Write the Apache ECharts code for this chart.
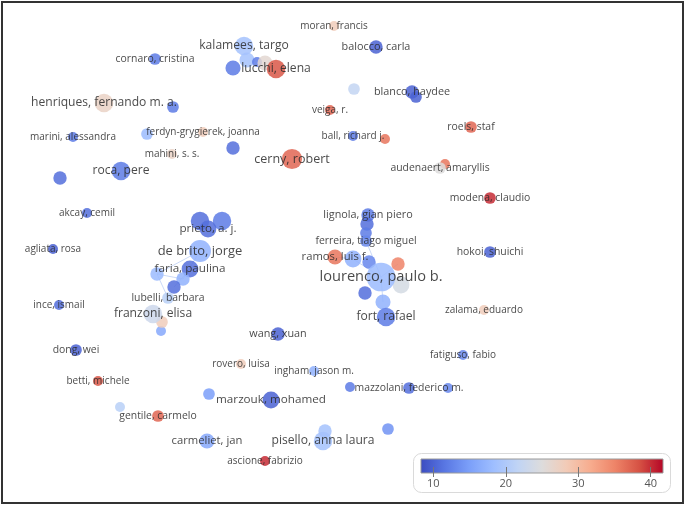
<!DOCTYPE html>
<html>
<head>
<meta charset="utf-8">
<script src="https://cdn.jsdelivr.net/npm/echarts@6.0.0/dist/echarts.min.js"></script>
<style>
html, body { margin: 0; padding: 0; background: #fff; }
#chart { width: 685px; height: 506px; }
</style>
</head>
<body>
<div id="chart"></div>
<script>
// authors (empty name = node without a visible label)
const names = [
  'moran, francis', 'kalamees, targo', 'balocco, carla', 'cornaro, cristina', '', '', '', '', 'lucchi, elena',
  'henriques, fernando m. a.', '', 'blanco, haydee', '', '', 'veiga, r.', 'roels, staf',
  'marini, alessandra', 'ferdyn-grygierek, joanna', '', 'ball, richard j.', '', '', 'mahini, s. s.',
  'cerny, robert', '', 'audenaert, amaryllis', 'roca, pere', '', 'modena, claudio', 'akcay, cemil',
  '', '', 'prieto, a. j.', 'de brito, jorge', 'agliata, rosa',
  'lignola, gian piero', '', '', 'ferreira, tiago miguel', 'hokoi, shuichi',
  'ramos, luis f.', '', '', '', '', 'lourenco, paulo b.', '', '', 'fort, rafael',
  'faria, paulina', '', '', '', 'lubelli, barbara', '', '', 'franzoni, elisa',
  'ince, ismail', 'zalama, eduardo', 'wang, xuan', 'dong, wei', 'fatiguso, fabio',
  'rovero, luisa', 'ingham, jason m.', 'betti, michele', '', 'mazzolani, federico m.', '',
  '', 'marzouk, mohamed', '', 'gentile, carmelo', '', 'carmeliet, jan', '', 'pisello, anna laura',
  'ascione, fabrizio'
]
// map coordinates
const xs = [
  334, 244, 376, 155, 247, 257, 265, 233, 276,
  104, 173, 412, 416, 354, 330, 471,
  73, 203, 147, 353, 385, 233, 172,
  292, 445, 440, 121, 60, 490, 87,
  200, 222, 208, 200, 53,
  368, 367, 366, 366, 490,
  335, 353, 369, 398, 401, 381, 365, 383, 386,
  190, 183, 157, 174, 168, 161, 162, 153,
  59, 484, 278, 76, 463,
  241, 314, 98, 350, 409, 448,
  209, 271, 120, 158, 388, 207, 325, 323,
  265
]
const ys = [
  26, 46, 47, 59, 60, 62, 63, 68, 69,
  103, 107, 92, 97, 89, 110, 127,
  137, 132, 134, 136, 139, 148, 154,
  159, 164, 168, 171, 178, 198, 213,
  221, 221, 229, 251, 249,
  215, 224, 233, 241, 252,
  257, 259, 262, 264, 285, 277, 293, 302, 317,
  269, 279, 274, 287, 298, 331, 322, 314,
  305, 310, 334, 350, 355,
  364, 371, 381, 387, 388, 388,
  394, 400, 407, 416, 429, 441, 431, 441,
  461
]
// number of documents (node weight)
const weights = [
  0, 5, 2, 1, 3, 0, 3, 3, 5,
  5, 1, 2, 1, 1, 0, 1,
  0, 0, 1, 0, 0, 2, 0,
  6, 0, 1, 5, 2, 1, 0,
  5, 5, 4, 7, 0,
  2, 2, 1, 1, 1,
  3, 4, 2, 2, 4, 11, 2, 3, 5,
  4, 2, 2, 2, 1, 0, 1, 5,
  0, 0, 2, 1, 0,
  0, 0, 0, 0, 1, 0,
  1, 4, 0, 1, 1, 3, 2, 5,
  0
]
// average score used for the colour scale
const scores = [
  28, 19, 10, 12, 19, 12, 26, 12, 38,
  27, 12, 10, 10, 22, 37, 37,
  12, 28, 18, 12, 36, 11, 27,
  37, 36, 25, 12, 11, 40, 11,
  11, 12, 11, 17, 10,
  12, 11, 12, 13, 10,
  36, 17, 13, 35, 24, 18, 11, 17, 12,
  11, 17, 18, 11, 21, 16, 28, 23,
  11, 28, 10, 10, 13,
  28, 17, 38, 12, 11, 13,
  15, 10, 21, 37, 14, 16, 19, 19,
  40
]
// co-authorship links (node index pairs)
const links = [
  [51, 33], [51, 50], [50, 33], [51, 53], [52, 49],
  [38, 45], [41, 45], [40, 41], [43, 45], [47, 45]
]
const scoreTicks = [10, 20, 30, 40]
const scoreMin = 8.3
const scoreMax = 41.7
const palette = ['#3b4cc0', '#5977e3', '#7b9ff9', '#9ebeff', '#c0d4f5', '#dddcdc',
  '#f2cbb7', '#f7ac8e', '#ee8468', '#d65244', '#b40426']

const chart = echarts.init(document.getElementById('chart'))

const nodeData = names.map((name, i) => ({
  name: name,
  value: [xs[i], ys[i], scores[i], weights[i]],
  symbolSize: 10 + 1.7 * weights[i],
  label: { show: name !== '', fontSize: 10 + 0.42 * weights[i] }
}))
const linkData = links.map(([a, b]) => ({
  coords: [[xs[a], ys[a]], [xs[b], ys[b]]]
}))

const option = {
  animation: false,
  backgroundColor: '#fff',
  grid: [
    { left: 2, right: 2, top: 2, bottom: 3, show: true, borderColor: '#333', borderWidth: 2, backgroundColor: 'transparent' },
    {
      left: 421, top: 459, width: 242, height: 14, show: true,
      backgroundColor: new echarts.graphic.LinearGradient(0, 0, 1, 0,
        palette.map((c, i) => ({ offset: i / (palette.length - 1), color: c }))),
      borderColor: '#9a9a9a', borderWidth: 1
    }
  ],
  xAxis: [
    { gridIndex: 0, type: 'value', min: 2, max: 683, show: false },
    {
      gridIndex: 1, type: 'value', min: scoreMin, max: scoreMax, position: 'bottom', offset: -6,
      axisLine: { show: false },
      splitLine: { show: false },
      axisTick: { show: true, customValues: scoreTicks, length: 10, lineStyle: { color: '#777' } },
      axisLabel: { customValues: scoreTicks, margin: 11, color: '#555', fontSize: 11, fontFamily: 'Open Sans' }
    }
  ],
  yAxis: [
    { gridIndex: 0, type: 'value', min: 2, max: 503, inverse: true, show: false },
    { gridIndex: 1, type: 'value', show: false }
  ],
  visualMap: {
    type: 'continuous',
    show: false,
    seriesIndex: 1,
    dimension: 2,
    min: scoreMin,
    max: scoreMax,
    inRange: { color: palette }
  },
  graphic: [
    {
      type: 'rect', z: -1,
      shape: { x: 413.5, y: 453.5, width: 257, height: 39, r: 8 },
      style: { fill: '#fff', stroke: '#dadada', lineWidth: 1 }
    }
  ],
  series: [
    {
      type: 'lines',
      coordinateSystem: 'cartesian2d',
      xAxisIndex: 0,
      yAxisIndex: 0,
      silent: true,
      data: linkData,
      lineStyle: { color: '#9fb9f2', width: 1, opacity: 0.55 },
      z: 1
    },
    {
      type: 'scatter',
      xAxisIndex: 0,
      yAxisIndex: 0,
      data: nodeData,
      itemStyle: { opacity: 0.85 },
      label: {
        position: 'inside',
        formatter: '{b}',
        color: '#2a2a2a',
        fontFamily: 'Open Sans'
      },
      z: 2
    }
  ]
}
chart.setOption(option)
</script>
</body>
</html>
